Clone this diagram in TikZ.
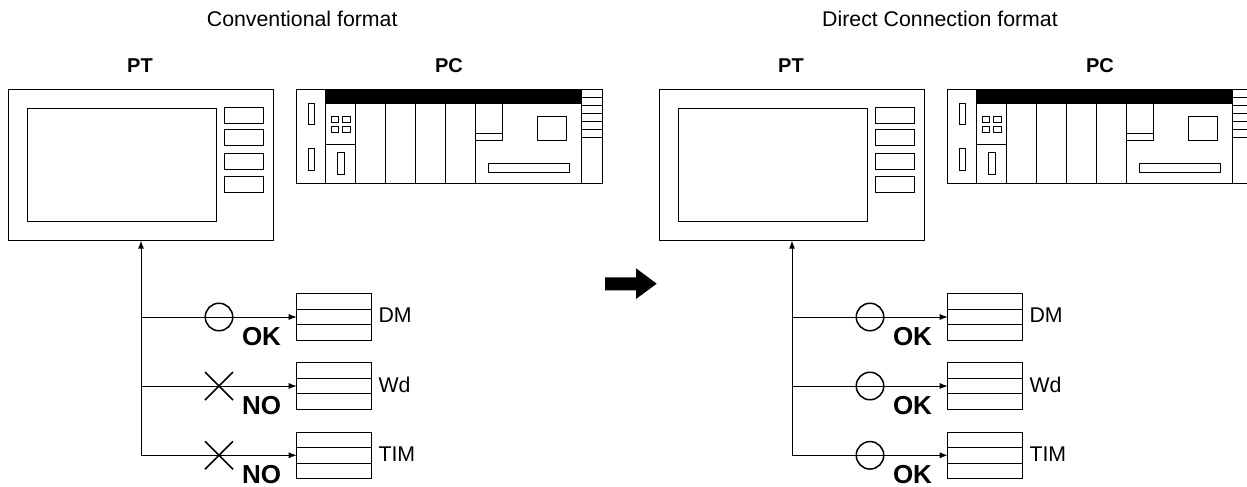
\documentclass[tikz,border=0pt]{standalone}
\usepackage{fontspec}
\setmainfont{Liberation Sans}
\usetikzlibrary{arrows.meta,positioning,calc,shapes.misc}

\begin{document}
\begin{tikzpicture}[
x=1pt, y=-1pt,
line width=0.9pt,
every node/.style={inner sep=0pt, outer sep=0pt},
title/.style={font=\fontsize{21.3}{24}\selectfont},
unit/.style={font=\fontsize{20}{24}\selectfont\bfseries},
reg/.style={draw, minimum width=74.6pt, minimum height=15.4pt},
key/.style={draw, minimum width=38.7pt, minimum height=16pt},
okmark/.style={draw, circle, line width=1.5pt, minimum size=27.5pt},
nomark/.style={draw, cross out, line width=1.5pt, minimum size=28pt},
verdict/.style={font=\fontsize{26}{28}\selectfont\bfseries},
arrow/.style={-{Latex[length=8pt,width=6pt]}}
]
\clip (0,0) rectangle (1247,487);

% -------- Panels --------
\foreach \s/\dx/\tx/\mk/\res in {L/0/302.2/nomark/NO, R/651/289/okmark/OK} {
\begin{scope}[xshift=\dx pt]

\node[title] (title\s) at (\tx,18.5) {\ifnum\dx=0 Conventional\else Direct Connection\fi{} format};
\node[unit] (ptname\s) at (140,66) {PT};
\node[unit] (pcname\s) at (449,66) {PC};

% -------- PT --------
\node[draw, minimum width=265pt, minimum height=151.7pt] (pt\s) at (140.8,164.8) {};
\node[draw, minimum width=189.4pt, minimum height=113.3pt] (screen\s) at (122,164.7) {};
\node[key] (keya\s) at (243.7,115.9) {};
\node[key, below=6pt of keya\s] (keyb\s) {};
\node[key, below=8pt of keyb\s] (keyc\s) {};
\node[key, below=6.2pt of keyc\s] (keyd\s) {};

% -------- PC --------
\node[draw, minimum width=305.3pt, minimum height=94.4pt] (pc\s) at (449.4,136.5) {};
\fill (325.7,89.3) rectangle (581.7,104);
\draw[line width=1.2pt] (296.7,89.3) rectangle (325.7,183.7);
\draw (308.3,103) rectangle (314.3,124.3);
\draw (308.3,148.3) rectangle (314.3,170);
\draw (331,116) rectangle (338.7,122);
\draw (342.7,116) rectangle (350.7,122);
\draw (331,126) rectangle (338.7,132.3);
\draw (342.7,126) rectangle (350.7,132.3);
\draw (325.7,144) -- (355.7,144);
\draw (337.7,152.7) rectangle (344,174.3);
\foreach \xx in {355.7,385.7,415.7,445.3,475.3,581.7}
  \draw (\xx,104) -- (\xx,183.7);
\draw (475.3,133.3) -- (502.7,133.3);
\draw (475.3,140.3) -- (502.7,140.3) -- (502.7,104);
\draw (537.7,116.3) rectangle (566.7,140.3);
\draw (488.7,163.3) rectangle (569.3,172.7);
\foreach \yy in {97.3,105.3,113.3,121.3,129.3,137.3}
  \draw (581.7,\yy) -- (602,\yy);

% -------- Memory areas --------
\foreach \n/\yy/\area/\m/\t in {1/317/DM/okmark/OK, 2/386/Wd/\mk/\res, 3/455.3/TIM/\mk/\res} {
  \node[reg] (mid\s\n) at (334,\yy) {};
  \node[reg, above=0pt of mid\s\n] (top\s\n) {};
  \node[reg, below=0pt of mid\s\n] (bot\s\n) {};
  \node[title, anchor=west] (area\s\n) at (378.5,\yy-1.5) {\area};
  \coordinate (bus\s\n) at (141,\yy);
  \draw[arrow] (bus\s\n) -- (mid\s\n.west);
  \node[\m] (mark\s\n) at (219,\yy) {};
  \node[verdict] (res\s\n) at (261.5,\yy+19.3) {\t};
}

\draw[arrow] (bus\s3) -- (bus\s3 |- pt\s.south);

\end{scope}
}

% -------- Big arrow --------
\fill (605,277.3) -- (636,277.3) -- (636,268.3) -- (656.7,283.7) -- (636,299) -- (636,290.3) -- (605,290.3) -- cycle;

\end{tikzpicture}
\end{document}
